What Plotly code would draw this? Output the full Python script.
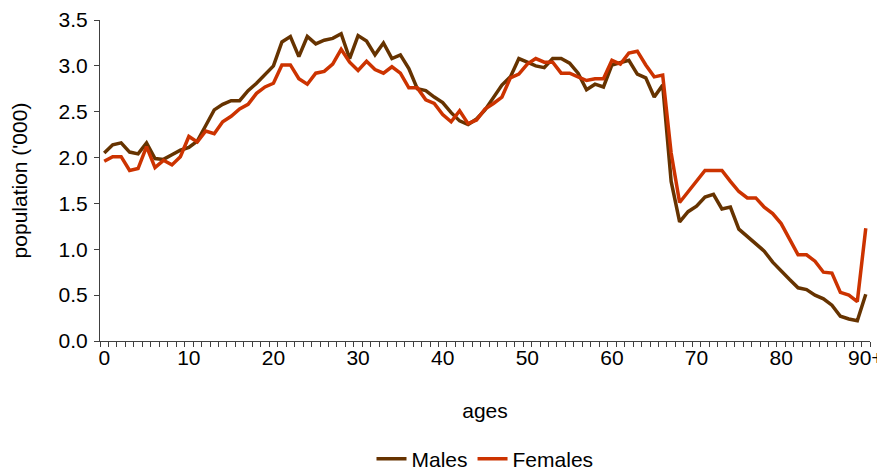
import plotly.graph_objects as go

ages = list(range(0, 91))
tick_vals = [0, 10, 20, 30, 40, 50, 60, 70, 80, 90]
tick_text = ["0", "10", "20", "30", "40", "50", "60", "70", "80", "90+"]

males = [2.05, 2.14, 2.16, 2.06, 2.04, 2.16, 1.99, 1.98, 2.03, 2.08,
         2.11, 2.18, 2.35, 2.52, 2.58, 2.62, 2.62, 2.73, 2.81, 2.90,
         3.00, 3.26, 3.32, 3.10, 3.32, 3.24, 3.28, 3.30, 3.35, 3.08,
         3.33, 3.27, 3.12, 3.25, 3.08, 3.12, 2.97, 2.75, 2.73, 2.66,
         2.60, 2.49, 2.40, 2.36, 2.42, 2.52, 2.66, 2.79, 2.88, 3.08,
         3.04, 3.00, 2.98, 3.08, 3.08, 3.03, 2.92, 2.74, 2.80, 2.77,
         3.01, 3.04, 3.06, 2.91, 2.87, 2.66, 2.79, 1.74, 1.30, 1.41,
         1.47, 1.57, 1.60, 1.44, 1.46, 1.22, 1.14, 1.05, 0.98, 0.86,
         0.76, 0.67, 0.58, 0.56, 0.50, 0.46, 0.39, 0.27, 0.24, 0.22,
         0.51]

females = [1.96, 2.01, 2.01, 1.86, 1.88, 2.12, 1.89, 1.97, 1.92, 2.01,
           2.23, 2.17, 2.29, 2.26, 2.39, 2.45, 2.53, 2.58, 2.70, 2.77,
           2.81, 3.01, 3.01, 2.86, 2.80, 2.92, 2.94, 3.02, 3.18, 3.04,
           2.95, 3.05, 2.96, 2.92, 2.99, 2.92, 2.76, 2.76, 2.63, 2.59,
           2.47, 2.39, 2.51, 2.37, 2.41, 2.53, 2.59, 2.66, 2.87, 2.91,
           3.02, 3.08, 3.04, 3.04, 2.92, 2.92, 2.88, 2.84, 2.86, 2.86,
           3.06, 3.02, 3.14, 3.16, 3.01, 2.88, 2.90, 2.05, 1.51, 1.63,
           1.74, 1.86, 1.86, 1.86, 1.74, 1.63, 1.56, 1.56, 1.46, 1.39,
           1.28, 1.10, 0.94, 0.94, 0.87, 0.75, 0.74, 0.53, 0.50, 0.43,
           1.23]

y_ticks = [0.0, 0.5, 1.0, 1.5, 2.0, 2.5, 3.0, 3.5]

FONT = "Liberation Sans, Arial, sans-serif"
FS = 21

fig = go.Figure()
fig.add_trace(go.Scatter(x=ages, y=males, mode="lines", name="Males",
                         line=dict(color="#663300", width=3.5)))
fig.add_trace(go.Scatter(x=ages, y=females, mode="lines", name="Females",
                         line=dict(color="#CC3300", width=3.5)))

# page body adds an 8px offset, so the figure is 8px smaller and margins shifted
fig.update_layout(
    width=877, height=464,
    margin=dict(l=92, r=15, t=12, b=131, autoexpand=False),
    paper_bgcolor="white", plot_bgcolor="white",
    font=dict(family=FONT, size=FS, color="black"),
    showlegend=True,
    legend=dict(orientation="h", x=0.50, xanchor="center", y=-0.368, yanchor="middle",
                font=dict(size=FS), tracegroupgap=0),
    xaxis=dict(
        range=[-0.5, 90.5], showgrid=False, zeroline=False,
        tickmode="array", tickvals=tick_vals, ticktext=tick_text,
        ticks="", showline=True, linecolor="#404040", linewidth=1,
        minor=dict(tickmode="linear", tick0=0.5, dtick=1, ticks="outside",
                   ticklen=5, tickcolor="#404040", tickwidth=1),
        ticklabelstandoff=-2,
        title=dict(text="ages", standoff=35, font=dict(size=FS)),
        tickfont=dict(size=FS), automargin=False,
    ),
    yaxis=dict(
        range=[0, 3.5], showgrid=False, zeroline=False,
        tickmode="array", tickvals=y_ticks,
        ticktext=[f"{v:.1f}" for v in y_ticks],
        ticks="outside", ticklen=5, tickcolor="#404040",
        showline=True, linecolor="#404040", linewidth=1,
        ticklabelstandoff=2,
        title=dict(text="population ('000)", standoff=28, font=dict(size=FS)),
        tickfont=dict(size=FS), automargin=False,
    ),
)

fig.write_html("out.html")
